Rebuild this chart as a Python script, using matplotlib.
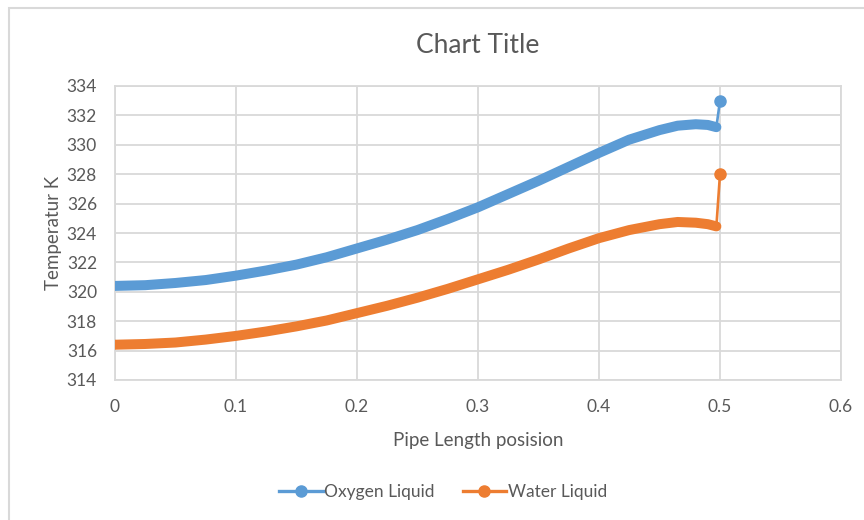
import matplotlib
matplotlib.use('Agg')
from matplotlib import pyplot as plt

# pipe length positions and temperatures (K)
positions = [0, 0.025, 0.05, 0.075, 0.1, 0.125, 0.15, 0.175, 0.2, 0.225, 0.25, 0.275,
             0.3, 0.325, 0.35, 0.375, 0.4, 0.425, 0.45, 0.465, 0.48, 0.49, 0.497, 0.5]
oxygen_liquid = [320.4, 320.45, 320.6, 320.8, 321.1, 321.45, 321.85, 322.35, 322.95, 323.55,
                 324.2, 324.95, 325.75, 326.65, 327.55, 328.5, 329.45, 330.35, 331.0, 331.3,
                 331.4, 331.35, 331.2, 333.0]
water_liquid = [316.4, 316.45, 316.55, 316.75, 317.0, 317.3, 317.65, 318.05, 318.55, 319.05,
                319.6, 320.2, 320.85, 321.5, 322.2, 322.95, 323.65, 324.2, 324.6, 324.75,
                324.7, 324.6, 324.45, 328.0]

series = [('Oxygen Liquid', oxygen_liquid, '#5B9BD5'),
          ('Water Liquid', water_liquid, '#ED7D31')]

TEXT = '#595959'
GRID = '#D9D9D9'

plt.rcParams['font.family'] = ['Lato', 'DejaVu Sans']

fig = plt.figure(figsize=(8.64, 5.2), dpi=100)
# chart area border
fig.patches.append(plt.Rectangle((9 / 864, -0.05), 1.0, 1.05 - 8 / 520, transform=fig.transFigure,
                                 fill=False, edgecolor=GRID, linewidth=1.5))
ax = fig.add_axes([115 / 864, 1 - 380 / 520, 726 / 864, 294 / 520])

handles = []
for name, values, color in series:
    # dense markers merge into a thick band in the original
    ax.plot(positions[:-1], values[:-1], color=color, linewidth=7.2,
            solid_capstyle='round', solid_joinstyle='round', zorder=3)
    ax.plot(positions[-2:], values[-2:], color=color, linewidth=1.9, marker='o', markersize=8,
            markevery=[1], zorder=3)
    h, = ax.plot([], [], color=color, linewidth=2.4, marker='o', markersize=8, label=name)
    handles.append(h)

ax.set_xlim(0, 0.6)
ax.set_ylim(314, 334)
ax.set_xticks([0, 0.1, 0.2, 0.3, 0.4, 0.5, 0.6])
ax.set_xticklabels(['0', '0.1', '0.2', '0.3', '0.4', '0.5', '0.6'])
ax.set_yticks(range(314, 335, 2))
ax.grid(True, color=GRID, linewidth=1.3)
ax.set_axisbelow(True)
for spine in ax.spines.values():
    spine.set_color(GRID)
    spine.set_linewidth(1.3)
ax.tick_params(length=0, labelsize=12.5, labelcolor=TEXT)
ax.tick_params(axis='x', pad=14)
ax.tick_params(axis='y', pad=13)

ax.set_title('Chart Title', fontsize=19, color=TEXT, pad=24)
ax.set_xlabel('Pipe Length posision', fontsize=13.5, color=TEXT, labelpad=12)
ax.set_ylabel('Temperatur K', fontsize=13.5, color=TEXT, labelpad=3)

fig.legend(handles=handles, loc='center', bbox_to_anchor=(443 / 864, 1 - 492 / 520), ncol=2,
           frameon=False, fontsize=12.5, labelcolor=TEXT, handlelength=2.5, handletextpad=0.1,
           columnspacing=1.6)

fig.savefig('out.png', dpi=100)
